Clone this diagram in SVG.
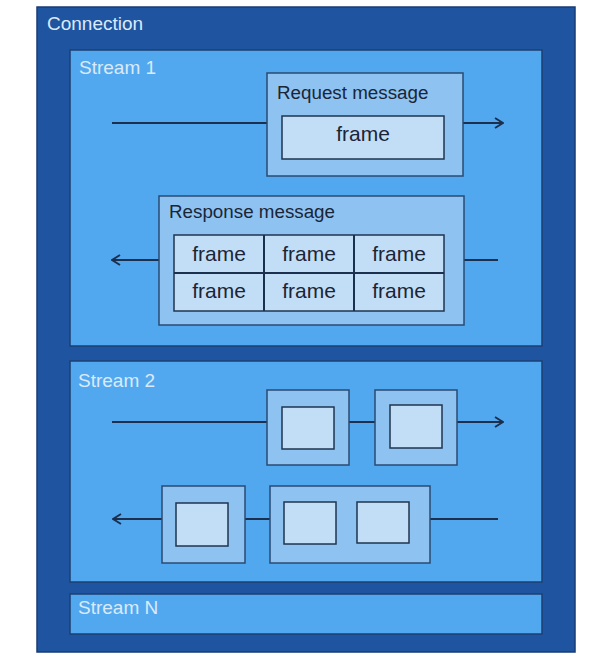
<svg xmlns="http://www.w3.org/2000/svg" width="607" height="662" viewBox="0 0 607 662">
<defs>
<marker id="arr" viewBox="0 0 10 12" refX="9" refY="6" markerWidth="10" markerHeight="12" markerUnits="userSpaceOnUse" orient="auto">
<path d="M1,1 L9,6 L1,11" fill="none" stroke="#1b2f4e" stroke-width="2"/>
</marker>
<style>
.conn{fill:#1f55a0;stroke:#173c74;stroke-width:1.5}
.stream{fill:#52a8ee;stroke:#1e3f70;stroke-width:1.5}
.msg{fill:#8ec3f1;stroke:#2a4a72;stroke-width:1.5}
.frame{fill:#c2ddf6;stroke:#1f3550;stroke-width:1.5}
.lbl{font-family:"Liberation Sans",Arial,sans-serif;font-size:19px;fill:#dbeafa}
.dark{font-family:"Liberation Sans",Arial,sans-serif;font-size:18.8px;fill:#1b2536}
.ft{font-family:"Liberation Sans",Arial,sans-serif;font-size:21px;fill:#1b2536;text-anchor:middle}
.line{stroke:#1b2f4e;stroke-width:2;fill:none}
</style>
</defs>
<rect width="607" height="662" fill="#ffffff"/>
<g id="connection">
<rect class="conn" x="37" y="7" width="538" height="645"/>
<text class="lbl" x="47" y="30">Connection</text>
</g>
<g id="stream1">
<rect class="stream" x="70" y="50" width="472" height="296"/>
<text class="lbl" x="79" y="74">Stream 1</text>
</g>
<g id="stream2">
<rect class="stream" x="70" y="361" width="472" height="221"/>
<text class="lbl" x="78" y="387">Stream 2</text>
</g>
<g id="streamN">
<rect class="stream" x="70" y="594" width="472" height="40"/>
<text class="lbl" x="78" y="614">Stream N</text>
</g>
<g id="connectors">
<line class="line" x1="112" y1="123" x2="267" y2="123"/>
<line class="line" x1="463" y1="123" x2="503" y2="123" marker-end="url(#arr)"/>
<line class="line" x1="159" y1="260" x2="112" y2="260" marker-end="url(#arr)"/>
<line class="line" x1="498" y1="260" x2="464" y2="260"/>
<line class="line" x1="112" y1="422" x2="267" y2="422"/>
<line class="line" x1="349" y1="422" x2="375" y2="422"/>
<line class="line" x1="457" y1="422" x2="503" y2="422" marker-end="url(#arr)"/>
<line class="line" x1="498" y1="519" x2="430" y2="519"/>
<line class="line" x1="270" y1="519" x2="245" y2="519"/>
<line class="line" x1="162" y1="519" x2="113" y2="519" marker-end="url(#arr)"/>
</g>
<g id="request">
<rect class="msg" x="267" y="73" width="196" height="103"/>
<text class="dark" x="277" y="99">Request message</text>
<rect class="frame" x="282" y="116" width="162" height="43"/>
<text class="ft" x="363" y="141">frame</text>
</g>
<g id="response">
<rect class="msg" x="159" y="196" width="305" height="129"/>
<text class="dark" x="169" y="218">Response message</text>
<rect class="frame" x="174" y="235" width="270" height="76"/>
<line class="line" x1="174" y1="273" x2="444" y2="273" stroke-width="1.5"/>
<line class="line" x1="264" y1="235" x2="264" y2="311" stroke-width="1.5"/>
<line class="line" x1="354" y1="235" x2="354" y2="311" stroke-width="1.5"/>
<text class="ft" x="219" y="261">frame</text>
<text class="ft" x="309" y="261">frame</text>
<text class="ft" x="399" y="261">frame</text>
<text class="ft" x="219" y="298">frame</text>
<text class="ft" x="309" y="298">frame</text>
<text class="ft" x="399" y="298">frame</text>
</g>
<g id="s2msgA">
<rect class="msg" x="267" y="390" width="82" height="75"/>
<rect class="frame" x="282" y="407" width="52" height="42"/>
</g>
<g id="s2msgB">
<rect class="msg" x="375" y="390" width="82" height="75"/>
<rect class="frame" x="390" y="405" width="52" height="43"/>
</g>
<g id="s2msgC">
<rect class="msg" x="162" y="486" width="83" height="77"/>
<rect class="frame" x="176" y="503" width="52" height="43"/>
</g>
<g id="s2msgD">
<rect class="msg" x="270" y="486" width="160" height="77"/>
<rect class="frame" x="284" y="502" width="52" height="42"/>
<rect class="frame" x="357" y="502" width="52" height="41"/>
</g>
</svg>
